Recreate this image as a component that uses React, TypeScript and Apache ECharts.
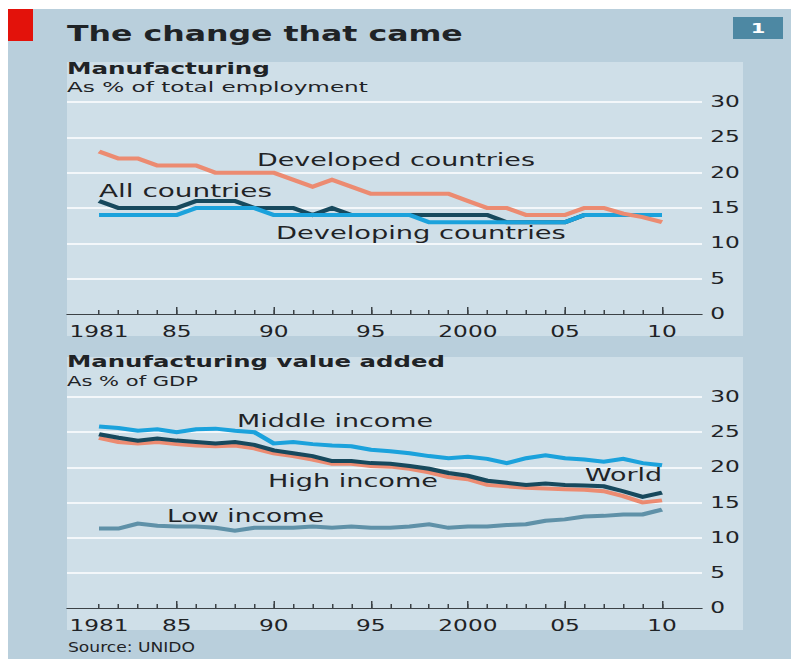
import React, { useEffect, useRef } from "react";
import * as echarts from "echarts";

// ---- data -------------------------------------------------------------
const years = [
  1981, 1982, 1983, 1984, 1985, 1986, 1987, 1988, 1989, 1990,
  1991, 1992, 1993, 1994, 1995, 1996, 1997, 1998, 1999, 2000,
  2001, 2002, 2003, 2004, 2005, 2006, 2007, 2008, 2009, 2010,
];
const tickLabelYears = [1981, 1985, 1990, 1995, 2000, 2005, 2010];
const tickLabels = ["1981", "85", "90", "95", "2000", "05", "10"];
const majorTickYears = [1985, 1990, 1995, 2000, 2005, 2010];

// Manufacturing employment, % of total employment
const developedEmployment = [
  23, 22, 22, 21, 21, 21, 20, 20, 20, 20,
  19, 18, 19, 18, 17, 17, 17, 17, 17, 16,
  15, 15, 14, 14, 14, 15, 15, 14.2, 13.7, 13,
];
const allCountriesEmployment = [
  16, 15, 15, 15, 15, 16, 16, 16, 15, 15,
  15, 14, 15, 14, 14, 14, 14, 14, 14, 14,
  14, 13, 13, 13, 13, 14, 14, 14, 14, 14,
];
const developingEmployment = [
  14, 14, 14, 14, 14, 15, 15, 15, 15, 14,
  14, 14, 14, 14, 14, 14, 14, 13, 13, 13,
  13, 13, 13, 13, 13, 14, 14, 14, 14, 14,
];

// Manufacturing value added, % of GDP
const middleIncomeVA = [
  25.8, 25.6, 25.2, 25.4, 25.0, 25.4, 25.5, 25.2, 25.0, 23.4,
  23.6, 23.3, 23.1, 23.0, 22.5, 22.3, 22.0, 21.6, 21.3, 21.5,
  21.2, 20.6, 21.3, 21.7, 21.3, 21.1, 20.8, 21.2, 20.6, 20.3,
];
const worldVA = [
  24.7, 24.2, 23.8, 24.1, 23.8, 23.6, 23.4, 23.6, 23.2, 22.4,
  22.0, 21.6, 20.9, 20.9, 20.6, 20.5, 20.2, 19.8, 19.2, 18.8,
  18.1, 17.8, 17.5, 17.7, 17.5, 17.4, 17.3, 16.6, 15.8, 16.4,
];
const highIncomeVA = [
  24.2, 23.6, 23.4, 23.6, 23.3, 23.1, 23.0, 23.1, 22.7, 22.0,
  21.6, 21.1, 20.5, 20.5, 20.2, 20.1, 19.8, 19.3, 18.6, 18.3,
  17.5, 17.3, 17.1, 17.0, 16.9, 16.8, 16.6, 15.9, 15.0, 15.3,
];
const lowIncomeVA = [
  11.3, 11.3, 12.0, 11.7, 11.6, 11.6, 11.4, 11.0, 11.4, 11.4,
  11.4, 11.6, 11.4, 11.6, 11.4, 11.4, 11.6, 11.9, 11.4, 11.6,
  11.6, 11.8, 11.9, 12.4, 12.6, 13.0, 13.1, 13.3, 13.3, 14.0,
];

// ---- layout & style ---------------------------------------------------
const FONT = '"DejaVu Sans", Verdana, sans-serif';
const INK = "#1f2326";
const OUTER_BG = "#b9cfdc";
const PANEL_BG = "#cfdfe8";
const GRID_LINE = "#f3f7fa";
const AXIS_INK = "#3c4246";
const SALMON = "#ec8b71";
const DARK = "#17495d";
const BLUE = "#1ba2dc";
const GREY_BLUE = "#5f91a8";

// The chart is drawn narrow and widened with a horizontal stretch.
const SX = 1.5;
const LEFT = 8;
const TOP = 9;
const VIEW_W = 783;
const VIEW_H = 650;
const px = (x: number) => (x - LEFT) / SX;
const py = (y: number) => y - TOP;

const X_MIN = 1979.35;
const X_MAX = 2012.06;

let measureCtx: CanvasRenderingContext2D | null = null;
function measure(text: string, font: string) {
  if (!measureCtx) measureCtx = document.createElement("canvas").getContext("2d");
  measureCtx!.font = font;
  return measureCtx!.measureText(text).width;
}

function caption(
  text: string,
  x: number,
  y: number,
  width: number,
  size: number,
  bold = false,
  fill = INK
) {
  const font = `${bold ? "bold " : ""}${size}px ${FONT}`;
  const natural = measure(text, font) || 1;
  return {
    type: "text",
    x: px(x),
    y: py(y),
    scaleX: width / SX / natural,
    z: 20,
    silent: true,
    style: {
      text,
      font,
      fill,
      textAlign: "left",
      textVerticalAlign: "middle",
      align: "left",
      verticalAlign: "middle",
    },
  };
}

function yearAxes(gridIndex: number) {
  const minor = {
    gridIndex,
    type: "value",
    position: "bottom",
    min: X_MIN,
    max: X_MAX,
    axisLine: { show: true, onZero: false, lineStyle: { color: AXIS_INK, width: 1 } },
    axisTick: {
      show: true,
      inside: true,
      length: 4,
      customValues: years,
      lineStyle: { color: AXIS_INK, width: 1 },
    },
    axisLabel: {
      show: true,
      customValues: tickLabelYears,
      formatter: (v: number) => {
        const i = tickLabelYears.indexOf(Math.round(v));
        return i >= 0 ? tickLabels[i] : "";
      },
      margin: 10,
      color: INK,
      fontFamily: FONT,
      fontSize: 15.5,
    },
    splitLine: { show: false },
  };
  const major = {
    gridIndex,
    type: "value",
    position: "bottom",
    min: X_MIN,
    max: X_MAX,
    axisLine: { show: false, onZero: false },
    axisTick: {
      show: true,
      inside: true,
      length: 7,
      customValues: majorTickYears,
      lineStyle: { color: AXIS_INK, width: 1 },
    },
    axisLabel: { show: false },
    splitLine: { show: false },
  };
  return [minor, major];
}

function valueAxis(gridIndex: number) {
  return {
    gridIndex,
    type: "value",
    position: "right",
    min: 0,
    max: 30,
    interval: 5,
    axisLine: { show: false },
    axisTick: { show: false },
    axisLabel: {
      margin: 5.5,
      color: INK,
      fontFamily: FONT,
      fontSize: 15.5,
    },
    splitLine: {
      show: true,
      showMinLine: false,
      lineStyle: { color: GRID_LINE, width: 2 },
    },
  };
}

function lineSeries(
  name: string,
  values: number[],
  color: string,
  axisIndex: number,
  z: number
) {
  return {
    name,
    type: "line",
    xAxisIndex: axisIndex * 2,
    yAxisIndex: axisIndex,
    data: years.map((yr, i) => [yr, values[i]]),
    symbol: "none",
    smooth: false,
    z,
    lineStyle: { color, width: 4, join: "miter" },
    itemStyle: { color },
    emphasis: { disabled: true },
  };
}

function buildOption() {
  const gridW = (702 - 67) / SX;
  return {
    animation: false,
    backgroundColor: OUTER_BG,
    textStyle: { fontFamily: FONT },
    grid: [
      { left: px(67), top: py(102), width: gridW, height: 212, containLabel: false },
      { left: px(67), top: py(397), width: gridW, height: 211, containLabel: false },
    ],
    xAxis: [...yearAxes(0), ...yearAxes(1)],
    yAxis: [valueAxis(0), valueAxis(1)],
    series: [
      lineSeries("All countries", allCountriesEmployment, DARK, 0, 3),
      lineSeries("Developing countries", developingEmployment, BLUE, 0, 4),
      lineSeries("Developed countries", developedEmployment, SALMON, 0, 5),
      lineSeries("Low income", lowIncomeVA, GREY_BLUE, 1, 3),
      lineSeries("Middle income", middleIncomeVA, BLUE, 1, 4),
      lineSeries("High income", highIncomeVA, SALMON, 1, 5),
      lineSeries("World", worldVA, DARK, 1, 6),
    ],
    graphic: [
      // panel backgrounds
      {
        type: "rect",
        z: -10,
        silent: true,
        shape: { x: px(67), y: py(62), width: (743 - 67) / SX, height: 336 - 62 },
        style: { fill: PANEL_BG },
      },
      {
        type: "rect",
        z: -10,
        silent: true,
        shape: { x: px(67), y: py(357), width: (743 - 67) / SX, height: 630 - 357 },
        style: { fill: PANEL_BG },
      },
      // red corner tab
      {
        type: "rect",
        z: 5,
        silent: true,
        shape: { x: 0, y: 0, width: 25 / SX, height: 32 },
        style: { fill: "#e3120b" },
      },
      // chart number badge
      {
        type: "rect",
        z: 5,
        silent: true,
        shape: { x: px(733), y: py(17), width: 50 / SX, height: 22 },
        style: { fill: "#4d88a3" },
      },
      {
        type: "text",
        z: 20,
        silent: true,
        x: px(758),
        y: py(28),
        style: {
          text: "1",
          font: `bold 14px ${FONT}`,
          fill: "#ffffff",
          textAlign: "center",
          textVerticalAlign: "middle",
          align: "center",
          verticalAlign: "middle",
        },
      },
      caption("The change that came", 67, 34, 396, 21, true),
      caption("Manufacturing", 67, 69, 203, 16, true),
      caption("As % of total employment", 67, 87, 301, 14),
      caption("Manufacturing value added", 67, 362, 378, 16, true),
      caption("As % of GDP", 67, 381, 131, 14),
      caption("Source: UNIDO", 68, 647, 127, 14),
      caption("Developed countries", 257, 160, 278, 17),
      caption("All countries", 99, 191, 173, 17),
      caption("Developing countries", 276, 233, 290, 17),
      caption("Middle income", 237, 421, 196, 17),
      caption("High income", 268, 481, 170, 17),
      caption("Low income", 167, 516, 157, 17),
      caption("World", 585, 475, 77, 17),
    ],
  };
}

export default function App() {
  const ref = useRef<HTMLDivElement | null>(null);

  useEffect(() => {
    if (!ref.current) return;
    const chart = echarts.init(ref.current, null, { renderer: "svg" });
    chart.setOption(buildOption() as any);
    return () => chart.dispose();
  }, []);

  return (
    <div
      style={{
        position: "fixed",
        left: 0,
        top: 0,
        width: 791,
        height: 659,
        overflow: "hidden",
        background: "#ffffff",
      }}
    >
      <div
        ref={ref}
        style={{
          position: "absolute",
          left: LEFT,
          top: TOP,
          width: VIEW_W / SX,
          height: VIEW_H,
          transform: `scaleX(${SX})`,
          transformOrigin: "0 0",
        }}
      />
    </div>
  );
}
